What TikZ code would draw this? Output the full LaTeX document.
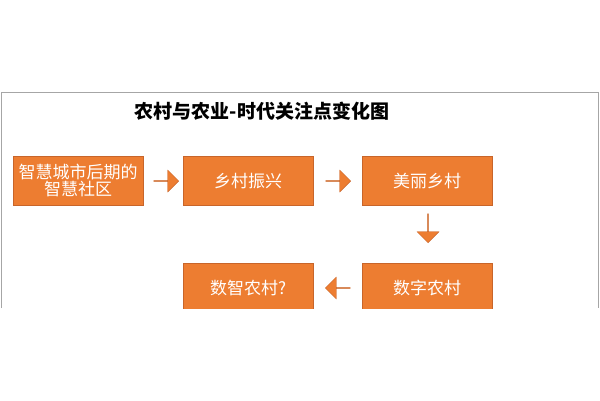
\documentclass[tikz,border=0pt]{standalone}
\usepackage{fontspec}
\newfontfamily\cjk{Noto Sans CJK SC}
\usetikzlibrary{shapes.arrows,positioning}
\definecolor{boxorange}{HTML}{ED7D31}
\definecolor{boxedge}{HTML}{C8652A}

\begin{document}
\begin{tikzpicture}[x=1pt,y=-1pt,
    stage/.style={draw=boxedge,fill=boxorange,text=white,minimum width=130pt,
        minimum height=49pt,inner sep=0pt,align=center,font=\cjk\fontsize{17}{19}\selectfont},
    flow/.style={single arrow,draw=boxedge,fill=boxorange,minimum height=25pt,
        minimum width=22pt,single arrow head extend=5pt,single arrow head indent=0pt,inner sep=0pt}]
        \useasboundingbox (0,0) rectangle (600,400);
        \fill[white] (0,0) rectangle (600,400);

        % Frame
        \draw[gray!70] (1,308) -- (1,92) -- (598,92) -- (598,308);
        \node (title) at (262,111) {\cjk\bfseries\fontsize{19}{21}\selectfont 农村与农业-时代关注点变化图};

        \begin{scope}
            \clip (0,0) rectangle (600,308);
            % Stages
            \node[stage,anchor=north west] (smart) at (13,156) {智慧城市后期的\\[-2pt]智慧社区};
            \node[stage,anchor=north west] (revive) at (183,156) {乡村振兴};
            \node[stage,anchor=north west] (beauty) at (362,156) {美丽乡村};
            \node[stage,anchor=north west] (digital) at (362,263) {数字农村};
            \node[stage,anchor=north west] (wise) at (183,263) {数智农村?};
        \end{scope}

        % Arrows
        \node[flow] (a1) at (166,181) {};
        \node[flow] (a2) at (338,181) {};
        \node[flow,rotate=-90,minimum height=29pt] (a3) at (428,228) {};
        \node[flow,rotate=180] (a4) at (338,288) {};
    \end{tikzpicture}
\end{document}
